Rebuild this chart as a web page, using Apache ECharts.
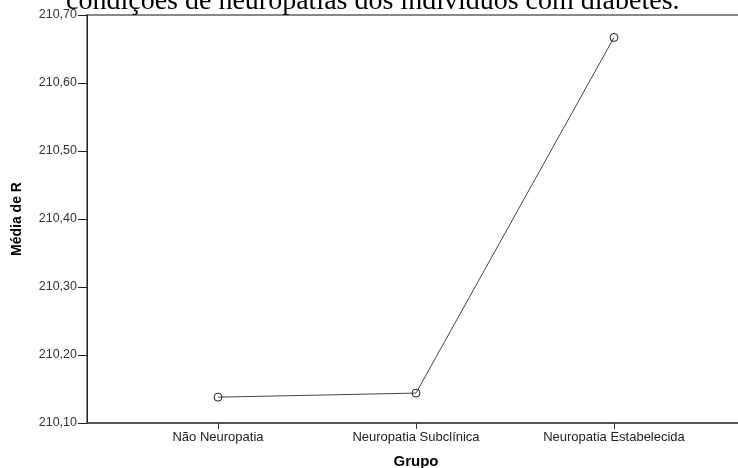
<!DOCTYPE html>
<html>
<head>
<meta charset="utf-8">
<script src="https://cdn.jsdelivr.net/npm/echarts@6/dist/echarts.min.js"></script>
<style>
  html, body { margin: 0; padding: 0; background: #fff; }
  #chart { width: 738px; height: 468px; }
</style>
</head>
<body>
<div id="chart"></div>
<script>
// Group means of R by neuropathy condition
const categories = ['Não Neuropatia', 'Neuropatia Subclínica', 'Neuropatia Estabelecida'];
const meanR = [210.138, 210.144, 210.667];
const yMin = 210.1;
const yMax = 210.7;
const yStep = 0.1;

const captionText = 'condições de neuropatias dos indivíduos com diabetes.';
const xTitle = 'Grupo';
const yTitle = 'Média de R';

const chart = echarts.init(document.getElementById('chart'), null, { renderer: 'canvas' });

const sansFont = 'Liberation Sans, Arial, sans-serif';

chart.setOption({
  animation: false,
  backgroundColor: '#ffffff',
  title: {
    text: captionText,
    left: 66,
    top: -12,
    padding: 0,
    textStyle: {
      fontFamily: 'Liberation Serif, Times New Roman, serif',
      fontSize: 28,
      fontWeight: 'normal',
      color: '#000'
    }
  },
  grid: [
    // frame: left axis, bottom line and grey top rule
    { left: 87, right: -20, top: 15, bottom: 45, outerBoundsMode: 'none', containLabel: false,
      show: true, borderColor: '#888', borderWidth: 2, backgroundColor: 'transparent' },
    // data area: three equal category bands
    { left: 119, right: 25, top: 15, bottom: 45, outerBoundsMode: 'none', containLabel: false }
  ],
  xAxis: [
    {
      gridIndex: 0, type: 'value', min: 0, max: 1,
      axisLine: { show: true, onZero: false, lineStyle: { color: '#444', width: 1.5 } },
      axisTick: { show: false }, axisLabel: { show: false }, splitLine: { show: false }
    },
    {
      gridIndex: 1, type: 'category', data: categories, boundaryGap: true,
      name: xTitle, nameLocation: 'middle', nameGap: 31,
      nameTextStyle: { fontFamily: sansFont, fontSize: 15, fontWeight: 'bold', color: '#000' },
      axisLine: { show: false },
      axisTick: { show: true, alignWithLabel: true, length: 6, lineStyle: { color: '#333', width: 1 } },
      axisLabel: { margin: 8, fontFamily: sansFont, fontSize: 13, color: '#222' },
      splitLine: { show: false }
    }
  ],
  yAxis: [
    {
      gridIndex: 0, type: 'value', min: yMin, max: yMax, interval: yStep,
      name: yTitle, nameLocation: 'middle', nameGap: 63, nameRotate: 90,
      nameTextStyle: { fontFamily: sansFont, fontSize: 14, fontWeight: 'bold', color: '#000' },
      axisLine: { show: true, lineStyle: { color: '#222', width: 1 } },
      axisTick: { show: true, length: 9, lineStyle: { color: '#222', width: 1 } },
      axisLabel: {
        margin: 10, fontFamily: sansFont, fontSize: 12.5, color: '#333',
        formatter: v => v.toFixed(2).replace('.', ',')
      },
      splitLine: { show: false }
    },
    {
      gridIndex: 1, type: 'value', min: yMin, max: yMax, interval: yStep,
      show: false
    }
  ],
  series: [
    {
      type: 'line',
      xAxisIndex: 1,
      yAxisIndex: 1,
      data: meanR,
      symbol: 'circle',
      symbolSize: 8,
      showSymbol: true,
      lineStyle: { color: '#444', width: 1 },
      itemStyle: { color: 'rgba(255,255,255,0)', borderColor: '#222', borderWidth: 1 },
      z: 3
    }
  ]
});
</script>
</body>
</html>
